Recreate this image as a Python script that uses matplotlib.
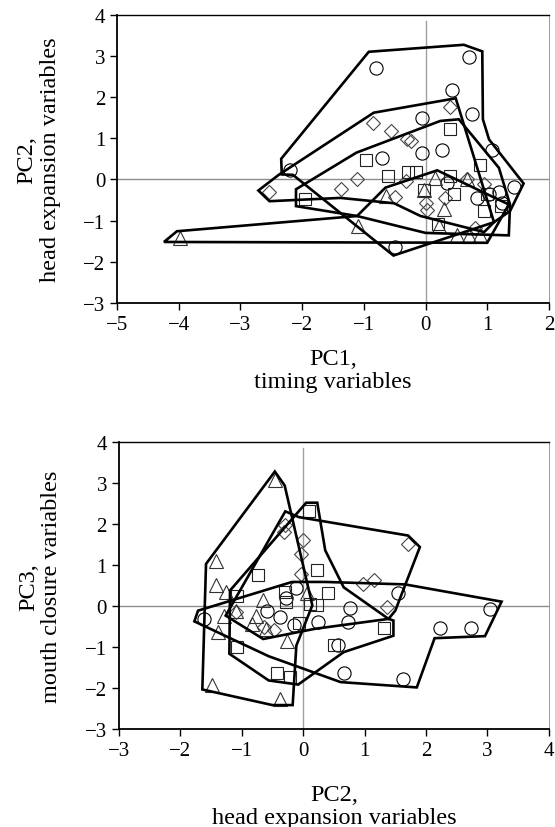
import matplotlib
matplotlib.use("Agg")
import matplotlib.pyplot as plt

plt.rcParams['font.family'] = ['Liberation Serif', 'DejaVu Serif']

# ---------------- top panel : PC1 (timing) vs PC2 (head expansion) ----------------
top_circle_pc1 = [-0.81, 0.71, 0.43, -0.06, 0.76, 1.08, -0.70, -0.06, 0.26, -2.20, 0.35, 1.43, 1.19, 0.84, 1.24, -0.49, 1.03]
top_circle_pc2 = [2.70, 2.98, 2.17, 1.50, 1.58, 0.71, 0.52, 0.65, 0.71, 0.23, -0.08, -0.18, -0.31, -0.45, -0.58, -1.64, -0.36]

top_diamond_pc1 = [0.39, -0.85, -0.56, -0.30, -0.23, -1.11, -1.37, -2.53, -0.49, -0.32, 0.00, 0.03, 0.32, 0.68, 0.95, 0.81]
top_diamond_pc2 = [1.76, 1.36, 1.18, 0.97, 0.93, 0.00, -0.23, -0.31, -0.42, -0.04, -0.58, -0.75, -0.45, 0.00, -0.12, -1.18]

top_square_pc1 = [0.39, -0.96, -0.61, -0.29, -0.16, 0.89, 0.39, -0.03, 0.46, 0.95, 0.21, -1.96, 1.00, 1.22]
top_square_pc2 = [1.22, 0.46, 0.08, 0.18, 0.18, 0.36, 0.08, -0.26, -0.36, -0.77, -1.09, -0.47, -0.36, -0.65]

top_triangle_pc1 = [-3.98, -1.09, -0.64, -0.02, 0.15, 0.30, 0.68, 0.22, 0.51, 0.70, 0.89]
top_triangle_pc2 = [-1.42, -1.14, -0.41, -0.27, 0.04, -0.73, 0.00, -1.14, -1.34, -1.38, -1.34]

# outlines drawn around each group
top_hull_circle_x = [-2.34, -0.92, 0.62, 0.92, 0.93, 1.03, 1.59, 1.37, 1.11, -0.52, -2.15, -2.33]
top_hull_circle_y = [0.50, 3.10, 3.27, 3.11, 1.46, 0.97, -0.10, -0.77, -1.04, -1.85, 0.11, 0.12]
top_hull_diamond_x = [-2.71, -2.38, -0.84, 0.49, 1.11, 0.95, -0.08, -0.51, -1.38, -2.53]
top_hull_diamond_y = [-0.27, 0.11, 1.62, 1.97, -1.04, -1.28, -0.89, -0.58, -0.45, -0.53]
top_hull_square_x = [-2.10, -1.12, 0.24, 0.54, 1.19, 1.37, 1.35, 0.00, -1.11, -2.10]
top_hull_square_y = [-0.24, 0.65, 1.42, 1.46, 0.28, -0.61, -1.36, -1.30, -0.89, -0.65]
top_hull_triangle_x = [-4.24, -4.03, -1.11, -0.65, 0.19, 1.35, 1.00]
top_hull_triangle_y = [-1.52, -1.26, -0.89, -0.20, 0.22, -0.61, -1.54]

# ---------------- bottom panel : PC2 (head expansion) vs PC3 (mouth closure) ----------------
bot_triangle_pc2 = [-0.45, -1.42, -1.42, -1.25, -1.29, -1.39, -0.66, -0.77, -0.61, -0.26, 0.06, -1.49, -0.37, -1.10, -0.83]
bot_triangle_pc3 = [3.07, 1.11, 0.52, 0.34, -0.24, -0.63, 0.14, -0.24, -0.55, -0.84, 0.33, -1.92, -2.26, -0.11, -0.43]

bot_diamond_pc2 = [-0.31, -0.29, 0.00, -0.03, -0.04, 1.71, 0.98, 1.16, 1.36, -0.64, -0.48, -1.10]
bot_diamond_pc3 = [1.80, 1.98, 1.60, 1.28, 0.79, 1.52, 0.54, 0.64, -0.02, -0.51, -0.59, -0.15]

bot_square_pc2 = [0.10, -0.73, 0.22, 0.41, -1.08, -0.30, -0.28, 0.12, 0.23, -0.07, -1.07, 0.50, 1.32, -0.43, -0.21]
bot_square_pc3 = [2.33, 0.76, 0.87, 0.33, 0.24, 0.34, 0.11, 0.06, 0.03, -0.41, -1.00, -0.94, -0.54, -1.63, -1.73]

bot_circle_pc2 = [-1.61, -0.28, -0.11, -0.58, -0.37, -0.15, 0.24, 0.77, 0.73, 1.55, 3.04, 2.23, 2.74, 0.57, 0.66, 1.63]
bot_circle_pc3 = [-0.31, 0.20, 0.44, -0.11, -0.27, -0.47, -0.39, -0.05, -0.39, 0.33, -0.07, -0.54, -0.54, -0.94, -1.63, -1.77]

bot_hull_triangle_x = [-1.58, -0.46, -0.30, 0.15, -0.11, -0.17, -0.50, -1.64]
bot_hull_triangle_y = [1.03, 3.28, 2.94, 0.02, -0.96, -2.41, -2.41, -2.03]
bot_hull_diamond_x = [-1.26, -0.29, -0.07, 1.71, 1.90, 1.50, 1.39, 0.20, -0.65]
bot_hull_diamond_y = [-0.23, 2.31, 2.17, 1.72, 1.44, -0.11, -0.31, -0.55, -0.80]
bot_hull_square_x = [-1.19, 0.05, 0.23, 0.36, 0.66, 1.39, 1.47, 1.47, 0.66, -0.08, -0.56, -1.20]
bot_hull_square_y = [0.38, 2.52, 2.52, 1.36, 0.46, -0.31, -0.35, -0.72, -1.12, -1.91, -1.81, -1.16]
bot_hull_circle_x = [-1.77, -1.71, -0.18, 0.36, 1.66, 3.23, 2.96, 2.14, 1.85, 0.61, -0.56]
bot_hull_circle_y = [-0.37, -0.11, 0.59, 0.59, 0.53, 0.11, -0.73, -0.78, -1.98, -1.85, -1.22]

MS = 9.5
LABEL_FS = 17.5
TICK_FS = 15


def draw_panel(ax, groups, hulls, xlim, xlabel, ylabel, xpad):
    ax.axhline(0, color='#8c8c8c', lw=1.0, zorder=1)
    ax.axvline(0, ymax=(3.85 + 3) / 7, color='#a0a0a0', lw=1.0, zorder=1)
    for xs, ys, marker, col, size in groups:
        ax.plot(xs, ys, linestyle='none', marker=marker, ms=size,
                mfc='none', mec=col, mew=0.8, zorder=2)
    for hx, hy in hulls:
        ax.fill(hx, hy, fill=False, edgecolor='black', lw=1.9,
                joinstyle='miter', zorder=3)
    ax.set_xlim(*xlim)
    ax.set_ylim(-3, 4)
    ax.set_xticks(range(xlim[0], xlim[1] + 1))
    ax.set_yticks(range(-3, 5))
    ax.tick_params(direction='out', length=5, width=1.0, labelsize=TICK_FS,
                   top=False, right=False)
    for side in ['left', 'bottom']:
        ax.spines[side].set_linewidth(1.3)
    ax.spines['top'].set_linewidth(1.0)
    ax.spines['right'].set_linewidth(0.6)
    ax.spines['right'].set_color('#888888')
    ax.set_xlabel(xlabel, fontsize=LABEL_FS, linespacing=1.15, labelpad=xpad)
    ax.set_ylabel(ylabel, fontsize=LABEL_FS, linespacing=1.15, labelpad=16)


fig = plt.figure(figsize=(5.55, 8.28), dpi=100)
ax1 = fig.add_axes([0.211, 0.633, 0.778, 0.348])
ax2 = fig.add_axes([0.214, 0.118, 0.775, 0.347])

draw_panel(ax1,
           [(top_circle_pc1, top_circle_pc2, 'o', 'black', MS),
            (top_diamond_pc1, top_diamond_pc2, 'D', '#444444', MS * 0.72),
            (top_square_pc1, top_square_pc2, 's', '#222222', MS * 0.95),
            (top_triangle_pc1, top_triangle_pc2, '^', '#333333', MS)],
           [(top_hull_circle_x, top_hull_circle_y),
            (top_hull_diamond_x, top_hull_diamond_y),
            (top_hull_square_x, top_hull_square_y),
            (top_hull_triangle_x, top_hull_triangle_y)],
           (-5, 2), "PC1,\ntiming variables", "PC2,\nhead expansion variables", 10)

draw_panel(ax2,
           [(bot_circle_pc2, bot_circle_pc3, 'o', 'black', MS),
            (bot_diamond_pc2, bot_diamond_pc3, 'D', '#444444', MS * 0.72),
            (bot_square_pc2, bot_square_pc3, 's', '#222222', MS * 0.95),
            (bot_triangle_pc2, bot_triangle_pc3, '^', '#333333', MS)],
           [(bot_hull_circle_x, bot_hull_circle_y),
            (bot_hull_diamond_x, bot_hull_diamond_y),
            (bot_hull_square_x, bot_hull_square_y),
            (bot_hull_triangle_x, bot_hull_triangle_y)],
           (-3, 4), "PC2,\nhead expansion variables", "PC3,\nmouth closure variables", 17)

fig.savefig("out.png", dpi=100)
